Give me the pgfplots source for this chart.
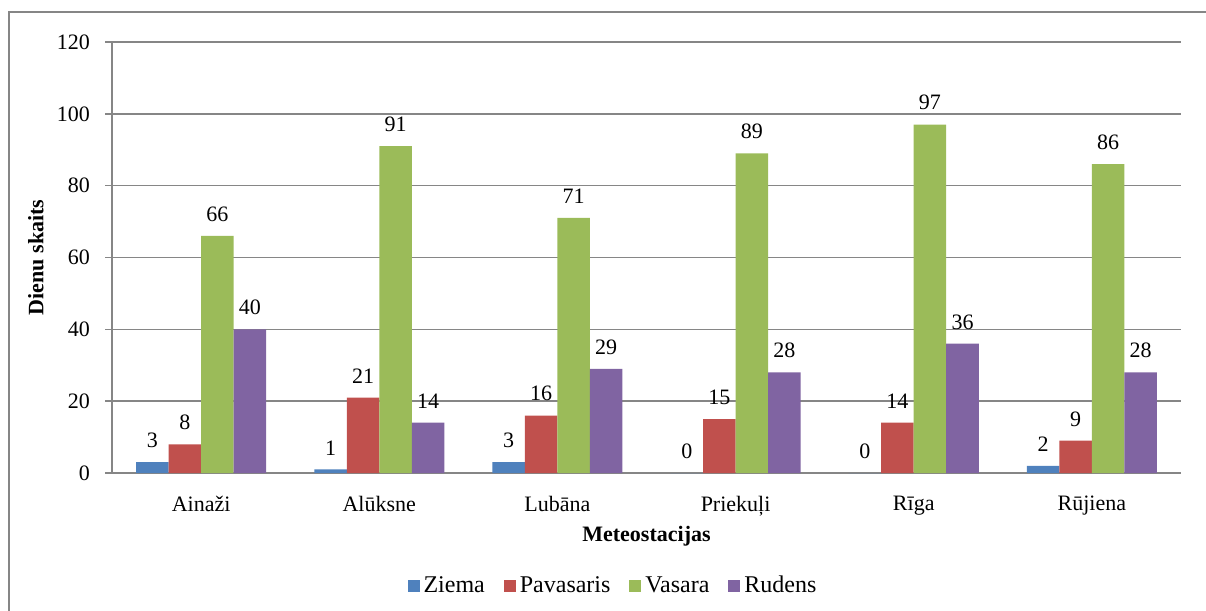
\documentclass[border=0pt]{standalone}
\usepackage{pgfplots}
\pgfplotsset{compat=1.18}
\usepackage{fontspec}
\setmainfont{Liberation Serif}
\definecolor{cZ}{HTML}{4F81BD}
\definecolor{cP}{HTML}{C0504D}
\definecolor{cV}{HTML}{9BBB59}
\definecolor{cR}{HTML}{8064A2}
\definecolor{axgray}{HTML}{868686}
\begin{document}
\begin{tikzpicture}[font=\fontsize{11pt}{13pt}\selectfont]
\useasboundingbox (0pt,0pt) rectangle (603pt,305.5pt);
\draw[axgray,line width=1pt] (4.5pt,-5pt) -- (4.5pt,299.5pt) -- (610pt,299.5pt);
\begin{axis}[
  at={(56pt,69pt)}, anchor=south west,
  scale only axis, width=534.5pt, height=215.5pt,
  ybar=0pt, bar width=16.25pt,
  xmin=-0.5, xmax=5.5, ymin=0, ymax=120,
  ytick={0,20,...,120},
  xtick={0,...,5},
  xticklabels={Ainaži,Alūksne,Lubāna,Priekuļi,Rīga,Rūjiena},
  minor xtick={-0.5,0.5,...,5.5},
  axis lines*=left,
  axis line style={axgray,line width=0.8pt},
  ymajorgrids, grid style={axgray,line width=0.7pt},
  tick align=outside,
  major tick length=3.5pt, minor tick length=3.5pt,
  xtick style={draw=none},
  minor tick style={axgray,line width=0.8pt},
  ytick style={axgray,line width=0.8pt},
  /pgf/number format/assume math mode=true,
  tick label style={font=\fontsize{11pt}{13pt}\selectfont},
  yticklabel style={xshift=-4pt},
  xticklabel style={yshift=-4.5pt},
  nodes near coords,
  nodes near coords style={font=\fontsize{11pt}{13pt}\selectfont, anchor=south, inner sep=0pt, yshift=7pt, text=black},
  legend columns=4,
  legend style={draw=none, fill=none, at={(axis description cs:0.4696,-0.262)}, anchor=center,
    font=\fontsize{12pt}{14pt}\selectfont,
    /tikz/every even column/.append style={column sep=7.5pt}},
  legend image code/.code={\fill[#1] (0pt,-3pt) rectangle (6pt,3pt);},
]
\addplot[fill=cZ, draw=none] coordinates {(0,3) (1,1) (2,3) (3,0) (4,0) (5,2)};
\addplot[fill=cP, draw=none] coordinates {(0,8) (1,21) (2,16) (3,15) (4,14) (5,9)};
\addplot[fill=cV, draw=none] coordinates {(0,66) (1,91) (2,71) (3,89) (4,97) (5,86)};
\addplot[fill=cR, draw=none] coordinates {(0,40) (1,14) (2,29) (3,28) (4,36) (5,28)};
\legend{Ziema,Pavasaris,Vasara,Rudens}
\end{axis}
\node[font=\bfseries\fontsize{11pt}{13pt}\selectfont] at (323.25pt,37.5pt) {Meteostacijas};
\node[rotate=90,font=\bfseries\fontsize{11pt}{13pt}\selectfont] at (18pt,176.75pt) {Dienu skaits};
\end{tikzpicture}
\end{document}
